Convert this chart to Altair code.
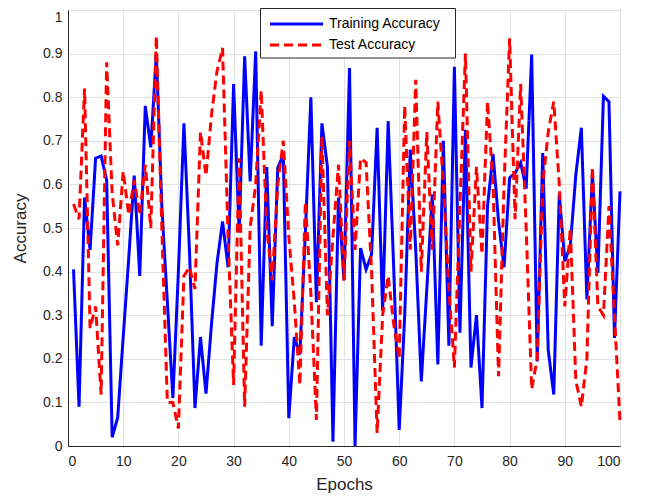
import altair as alt
import pandas as pd

epochs = list(range(1, 101))
train_acc = [0.405, 0.09, 0.57, 0.45, 0.66, 0.665, 0.61, 0.02, 0.065, 0.25,
             0.43, 0.62, 0.39, 0.78, 0.685, 0.90, 0.55, 0.33, 0.11, 0.40,
             0.74, 0.45, 0.087, 0.25, 0.12, 0.28, 0.42, 0.515, 0.41, 0.83,
             0.49, 0.894, 0.607, 0.905, 0.23, 0.64, 0.275, 0.638, 0.668, 0.064,
             0.25, 0.21, 0.49, 0.80, 0.33, 0.74, 0.64, 0.01, 0.57, 0.38,
             0.867, 0.0, 0.454, 0.405, 0.44, 0.73, 0.31, 0.745, 0.41, 0.037,
             0.30, 0.68, 0.45, 0.148, 0.36, 0.577, 0.187, 0.70, 0.23, 0.87,
             0.26, 0.725, 0.18, 0.30, 0.087, 0.55, 0.67, 0.515, 0.41, 0.615,
             0.626, 0.65, 0.59, 0.898, 0.194, 0.672, 0.22, 0.118, 0.577, 0.424,
             0.46, 0.622, 0.73, 0.336, 0.626, 0.397, 0.802, 0.79, 0.248, 0.584]
test_acc = [0.555, 0.52, 0.82, 0.27, 0.32, 0.118, 0.88, 0.58, 0.46, 0.63,
            0.53, 0.61, 0.53, 0.645, 0.50, 0.94, 0.5, 0.1, 0.1, 0.04,
            0.39, 0.41, 0.36, 0.72, 0.62, 0.76, 0.86, 0.913, 0.48, 0.14,
            0.66, 0.09, 0.50, 0.60, 0.815, 0.50, 0.38, 0.60, 0.70, 0.48,
            0.33, 0.14, 0.56, 0.35, 0.06, 0.71, 0.30, 0.48, 0.645, 0.38,
            0.70, 0.45, 0.66, 0.65, 0.40, 0.03, 0.30, 0.39, 0.28, 0.20,
            0.78, 0.45, 0.84, 0.40, 0.72, 0.45, 0.79, 0.60, 0.36, 0.18,
            0.55, 0.90, 0.40, 0.64, 0.44, 0.79, 0.60, 0.16, 0.60, 0.935,
            0.52, 0.83, 0.50, 0.13, 0.20, 0.60, 0.72, 0.79, 0.60, 0.32,
            0.50, 0.15, 0.09, 0.20, 0.64, 0.32, 0.30, 0.55, 0.30, 0.055]
series_names = ["Training Accuracy", "Test Accuracy"]
series_colors = ["#0000ff", "#ff0000"]
series_dash = [[1, 0], [9, 5]]
x_ticks = list(range(0, 101, 10))
y_ticks = [round(i * 0.1, 1) for i in range(11)]

df = pd.DataFrame({
    "epoch": epochs * 2,
    "acc": train_acc + test_acc,
    "series": [series_names[0]] * len(epochs) + [series_names[1]] * len(epochs),
})
legend_df = pd.DataFrame({"series": series_names})

color_enc = alt.Color("series:N", scale=alt.Scale(domain=series_names, range=series_colors), legend=None)
dash_enc = alt.StrokeDash("series:N", scale=alt.Scale(domain=series_names, range=series_dash), legend=None)

base = alt.Chart(df).mark_line(strokeWidth=3).encode(
    x=alt.X("epoch:Q", scale=alt.Scale(domain=[0, 100], nice=False),
            axis=alt.Axis(values=x_ticks, title="Epochs", format="d",
                          labelPadding=8, titlePadding=8)),
    y=alt.Y("acc:Q", scale=alt.Scale(domain=[0, 1], nice=False),
            axis=alt.Axis(values=y_ticks, title="Accuracy", format=".1~f",
                          labelPadding=6, titlePadding=13,
                          labelOffset={"condition": {"test": "datum.value === 1", "value": 7}, "value": 0})),
    color=color_enc,
    strokeDash=dash_enc,
)

train_layer = base.transform_filter(alt.datum.series == series_names[0])
test_layer = base.transform_filter(alt.datum.series == series_names[1])

# legend box (decoration)
legend_box = alt.Chart(legend_df.head(1)).mark_rect(
    fill="white", stroke="#262626", strokeWidth=1
).encode(x=alt.value(192.5), x2=alt.value(387.5), y=alt.value(-1.5), y2=alt.value(48))

legend_layers = [legend_box]
for i, name in enumerate(series_names):
    row_y = 14 + 21 * i
    sub = alt.Chart(legend_df).transform_filter(alt.datum.series == name)
    legend_layers.append(
        sub.mark_rule(strokeWidth=3).encode(
            x=alt.value(202), x2=alt.value(255), y=alt.value(row_y),
            color=color_enc, strokeDash=dash_enc)
    )
    legend_layers.append(
        sub.mark_text(align="left", baseline="middle", fontSize=14,
                      font="Liberation Sans", color="#000000").encode(
            x=alt.value(261), y=alt.value(row_y), text="series:N")
    )

chart = alt.layer(train_layer, test_layer, *legend_layers).properties(
    width=552, height=436,
    autosize=alt.AutoSizeParams(type="none"),
    padding={"left": 60, "top": 2, "right": 17, "bottom": 48},
).configure_view(
    stroke="#262626", strokeWidth=1
).configure_axis(
    domainColor="#262626", gridColor="#e2e2e2", gridWidth=1, ticks=False,
    labelColor="#262626", titleColor="#262626", labelFont="Liberation Sans",
    titleFont="Liberation Sans", labelFontSize=14, titleFontSize=17,
    titleFontWeight="normal",
)

chart.save("out.html", embed_options={"renderer": "svg", "actions": False})
